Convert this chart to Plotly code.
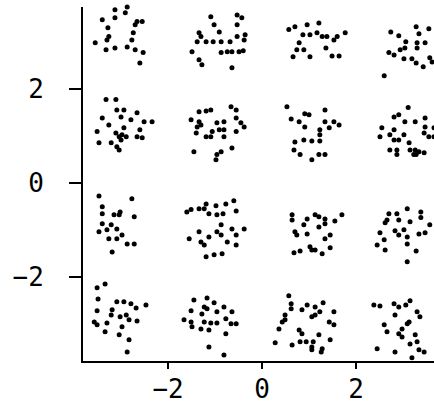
import plotly.graph_objects as go

# Received 16-point constellation samples, grouped by constellation row
x_row_p3 = [-2.87,-2.70,-2.91,-3.13,-3.13,-3.40,-2.66,-2.55,-2.70,-3.28,-2.74,-3.30,-3.55,-2.77,-2.87,-2.70,-2.53,-3.32,-3.13,-2.60,-3.26,
            -1.15,-1.09,-1.02,-0.91,-0.53,-0.43,-0.53,-1.34,-1.30,-1.38,-1.19,-1.04,-0.87,-0.68,-0.53,-0.36,-0.38,-1.49,-1.34,-1.28,-0.87,-0.74,-0.64,-0.49,-0.40,-0.64,
            0.57,0.70,0.96,1.21,0.87,1.02,1.17,1.28,1.38,1.53,1.60,1.77,0.79,0.74,0.89,1.36,0.66,1.02,1.49,1.64,
            2.74,2.91,3.28,3.34,3.55,3.06,3.30,3.47,3.04,2.94,3.30,2.70,2.81,3.02,3.19,3.28,3.43,3.57,3.62,2.60]
y_row_p3 = [3.74,3.77,3.62,3.68,3.51,3.47,3.43,3.43,3.36,3.30,3.19,3.04,2.98,3.04,2.89,2.83,2.77,2.83,2.87,2.55,3.11,
            3.79,3.53,3.36,3.21,3.57,3.51,3.36,3.19,3.11,3.00,3.00,3.00,3.00,3.00,3.11,3.15,3.04,2.79,2.62,2.51,2.77,2.79,2.79,2.79,2.81,2.45,
            3.26,3.32,3.36,3.40,3.15,3.15,3.19,3.11,3.11,3.04,3.11,3.19,2.98,2.83,2.83,2.87,2.68,2.68,2.70,2.70,
            3.21,3.13,3.32,3.17,3.28,3.00,2.98,2.98,2.87,2.83,2.87,2.77,2.72,2.64,2.64,2.55,2.47,2.66,2.57,2.28]

x_row_p1 = [-3.32,-3.11,-3.09,-2.94,-3.00,-2.66,-2.79,-3.40,-3.26,-3.51,-2.94,-2.98,-2.51,-2.60,-2.66,-2.34,-3.11,-3.04,-3.00,-2.89,-2.55,-3.47,-3.21,-3.09,-3.04,
            -1.34,-1.19,-1.09,-0.66,-0.55,-1.51,-1.34,-1.30,-1.38,-1.40,-0.96,-0.81,-1.06,-0.91,-0.81,-1.19,-1.09,-0.81,-0.45,-0.38,-0.55,-0.55,-1.45,-0.96,-0.98,-0.87,-0.64,
            0.53,0.91,1.00,1.34,0.62,0.79,0.91,1.34,1.53,1.64,1.23,1.43,1.23,0.70,0.89,1.06,1.23,0.68,0.81,1.06,1.21,1.34,
            3.11,2.81,2.91,3.04,3.26,3.47,3.47,2.55,2.51,2.81,2.72,2.81,3.02,3.45,3.55,2.91,3.13,3.26,3.28,2.72,2.87,2.87,3.15,3.34,3.45,3.23,3.66,3.66]
y_row_p1 = [1.77,1.77,1.55,1.55,1.40,1.49,1.34,1.38,1.23,1.09,1.17,1.02,1.30,1.13,0.98,1.30,1.06,0.98,0.91,0.98,0.96,0.85,0.85,0.77,0.70,
            1.51,1.53,1.55,1.62,1.55,1.34,1.30,1.23,1.19,1.06,1.28,1.30,1.09,1.13,1.13,0.98,0.98,0.98,1.28,1.19,1.09,1.38,0.66,0.60,0.49,0.66,0.74,
            1.62,1.47,1.45,1.55,1.36,1.30,1.19,1.30,1.30,1.23,1.13,1.17,1.02,0.87,0.91,0.89,0.89,0.70,0.60,0.49,0.60,0.60,
            1.60,1.40,1.45,1.30,1.30,1.38,1.19,1.17,0.98,1.13,1.02,0.91,1.02,1.06,0.98,0.91,0.85,0.70,0.60,0.70,0.70,0.60,0.70,0.66,0.64,0.60,1.17,0.98]

x_row_m1 = [-3.47,-2.77,-3.40,-3.40,-3.15,-3.02,-3.04,-2.72,-3.40,-3.21,-3.09,-3.47,-3.30,-3.26,-3.09,-2.98,-2.87,-2.72,-3.19,
            -1.51,-1.60,-1.34,-1.19,-1.23,-0.98,-0.77,-0.60,-1.13,-0.96,-0.83,-0.55,-0.87,-0.96,-0.87,-0.64,-0.38,-1.34,-1.30,-1.23,-1.55,-1.13,-0.74,-0.55,-0.55,-1.19,-1.02,-0.85,
            0.64,0.64,0.89,0.96,1.13,1.21,1.34,1.55,1.70,1.21,1.34,0.70,0.74,0.96,1.45,1.34,0.68,0.81,1.02,1.13,1.28,1.45,1.06,
            2.70,2.87,3.09,3.38,3.38,3.57,2.66,2.62,2.91,3.15,2.51,2.83,3.02,2.91,3.09,3.34,3.47,2.60,2.45,3.09,2.62,3.28,3.09]
y_row_m1 = [-0.28,-0.34,-0.51,-0.66,-0.68,-0.62,-0.68,-0.72,-0.87,-0.89,-0.98,-1.04,-1.00,-1.19,-1.19,-1.11,-1.30,-1.30,-1.47,
            -0.57,-0.62,-0.55,-0.45,-0.55,-0.49,-0.45,-0.38,-0.66,-0.68,-0.66,-0.60,-0.89,-1.04,-1.11,-0.98,-0.98,-1.04,-1.26,-1.32,-1.19,-1.15,-1.26,-1.11,-1.32,-1.57,-1.53,-1.51,
            -0.68,-0.79,-0.89,-0.77,-0.68,-0.72,-0.77,-0.81,-0.68,-0.94,-0.87,-1.04,-1.11,-1.09,-1.11,-1.19,-1.49,-1.45,-1.36,-1.43,-1.51,-1.38,-1.43,
            -0.66,-0.66,-0.55,-0.62,-0.74,-0.89,-0.79,-0.85,-0.79,-0.83,-1.06,-1.02,-1.00,-1.11,-1.15,-1.09,-1.06,-1.21,-1.32,-1.30,-1.43,-1.45,-1.68]

x_row_m3 = [-3.51,-3.34,-3.49,-3.09,-2.94,-2.79,-2.68,-2.47,-3.51,-3.19,-3.21,-3.02,-2.89,-2.83,-3.57,-3.51,-3.30,-2.66,-2.98,-3.04,-3.34,-2.83,-2.87,
            -1.45,-1.17,-1.02,-1.23,-1.17,-1.51,-1.28,-0.81,-0.96,-0.64,-1.66,-1.51,-1.49,-1.23,-1.09,-0.96,-0.77,-0.66,-0.55,-1.30,-1.13,-0.77,-1.13,-0.81,
            0.57,0.62,0.62,0.49,0.96,1.13,1.30,0.85,1.23,1.06,1.13,1.53,0.43,0.49,1.43,1.53,0.36,0.79,0.85,1.21,0.81,0.94,1.09,0.28,0.64,1.06,1.06,1.28,1.26,1.45,
            2.38,2.51,2.81,2.91,3.06,3.15,2.83,3.30,3.36,2.60,2.66,3.09,2.98,2.91,2.98,3.13,3.26,2.45,2.83,3.15,3.30,3.34,3.45,3.19]
y_row_m3 = [-2.23,-2.15,-2.47,-2.53,-2.53,-2.57,-2.66,-2.60,-2.72,-2.70,-2.81,-2.85,-2.81,-2.91,-2.96,-3.02,-2.98,-2.94,-3.06,-3.23,-3.17,-3.34,-3.60,
            -2.49,-2.45,-2.55,-2.64,-2.68,-2.72,-2.79,-2.64,-2.74,-2.74,-2.91,-2.96,-3.06,-2.96,-2.98,-2.98,-2.89,-3.00,-3.00,-3.11,-3.13,-3.21,-3.49,-3.66,
            -2.40,-2.57,-2.68,-2.81,-2.60,-2.64,-2.55,-2.70,-2.74,-2.85,-2.81,-2.74,-2.96,-2.91,-2.96,-3.02,-3.11,-3.13,-3.21,-3.23,-3.38,-3.38,-3.38,-3.40,-3.45,-3.49,-3.55,-3.53,-3.60,-3.34,
            -2.60,-2.62,-2.57,-2.64,-2.60,-2.51,-2.81,-2.74,-2.85,-3.02,-3.17,-3.00,-3.11,-3.21,-3.28,-2.96,-3.23,-3.53,-3.60,-3.43,-3.38,-3.55,-3.60,-3.72]

tick_vals = [-2, 0, 2]
tick_text = ["−2", "0", "2"]

fig = go.Figure()
for xs, ys in [(x_row_p3, y_row_p3), (x_row_p1, y_row_p1), (x_row_m1, y_row_m1), (x_row_m3, y_row_m3)]:
    fig.add_trace(go.Scatter(x=xs, y=ys, mode="markers",
                             marker=dict(color="black", size=5, line=dict(width=0)),
                             cliponaxis=False, showlegend=False, hoverinfo="skip"))

tick_font = dict(family="DejaVu Sans Mono", size=26, color="black")
fig.update_layout(
    width=434, height=403,
    margin=dict(l=83, r=0, t=7, b=42, autoexpand=False),
    paper_bgcolor="white", plot_bgcolor="white",
    showlegend=False,
)
fig.update_xaxes(range=[-3.81, 3.66], tickvals=tick_vals, ticktext=tick_text,
                 showgrid=False, zeroline=False, showline=True, linecolor="black", linewidth=2,
                 ticks="outside", ticklen=6, tickwidth=1.5, tickcolor="black",
                 tickfont=tick_font, ticklabelstandoff=-2, automargin=False)
fig.update_yaxes(range=[-3.79, 3.74], tickvals=tick_vals, ticktext=tick_text,
                 showgrid=False, zeroline=False, showline=True, linecolor="black", linewidth=2,
                 ticks="outside", ticklen=12, tickwidth=1.5, tickcolor="black",
                 tickfont=tick_font, ticklabelstandoff=20, automargin=False)

fig.write_html("out.html", config={"displayModeBar": False},
               post_script="document.body.style.margin='0';document.body.style.overflow='hidden';")
